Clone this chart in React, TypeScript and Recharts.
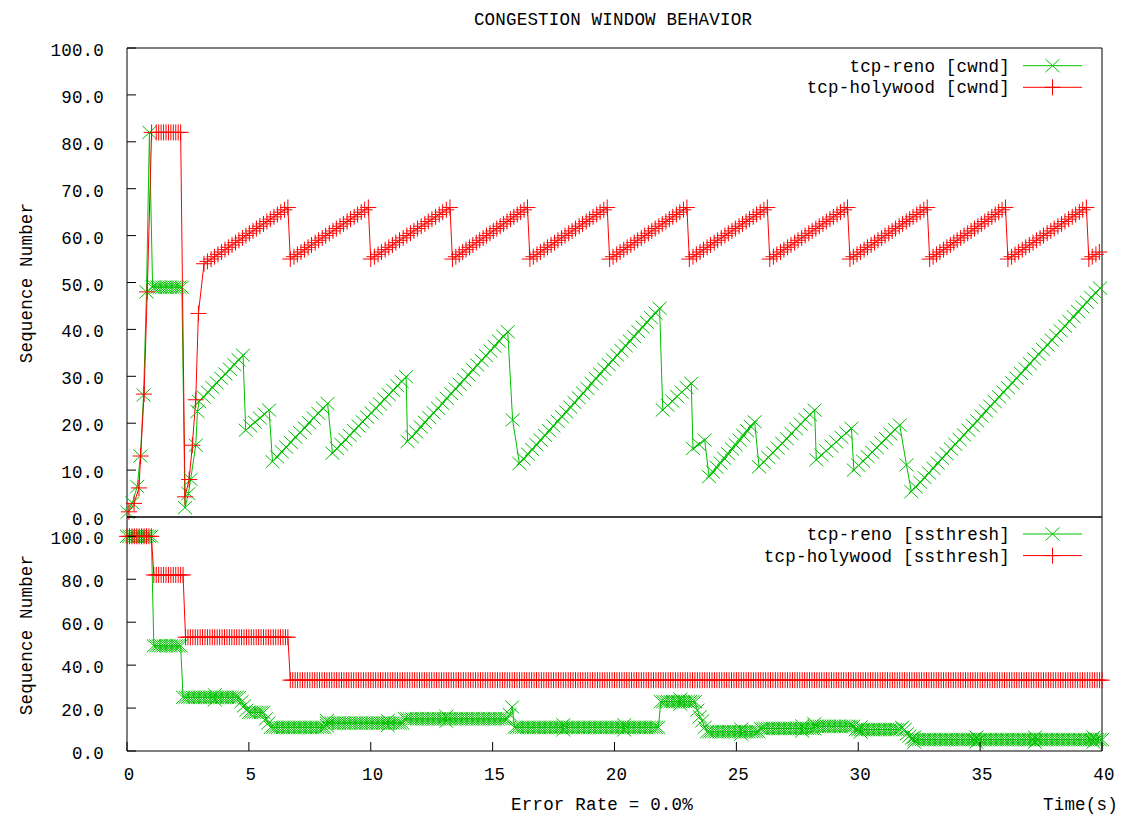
import { LineChart, Line, XAxis, YAxis, ReferenceArea } from 'recharts';

const GREEN = '#00c000';
const RED = '#ff0000';
const TEXT = {
  fontFamily: '"Liberation Mono", "DejaVu Sans Mono", monospace',
  fontSize: 17.5,
  letterSpacing: 0.2,
  fill: '#000',
};
const TICK_LEN = 9;

const cwndTicks = [0, 10, 20, 30, 40, 50, 60, 70, 80, 90, 100];
const ssTicks = [0, 20, 40, 60, 80, 100];
const timeTicks = [0, 5, 10, 15, 20, 25, 30, 35, 40];

// tcp-reno congestion window, [time (s), cwnd]
const renoCwnd: [number, number][] = [
  [0.02, 1], [0.22, 3], [0.42, 6.5], [0.55, 13], [0.68, 26], [0.8, 48], [0.92, 82],
  [1.05, 49], [1.15, 49], [1.25, 49], [1.35, 49], [1.45, 49], [1.55, 49], [1.65, 49], [1.75, 49], [1.85, 49], [1.95, 49], [2.05, 49], [2.15, 49], [2.25, 49],
  [2.38, 2], [2.52, 5], [2.61, 8], [2.82, 15.3], [2.89, 22.5],
  [2.96, 24.6], [3.14, 25.6], [3.32, 26.6], [3.5, 27.6], [3.68, 28.6], [3.86, 29.6], [4.04, 30.5], [4.22, 31.5], [4.4, 32.5], [4.58, 33.5], [4.76, 34.5],
  [4.87, 18.5], [5.06, 19.4], [5.25, 20.2], [5.45, 21.1], [5.64, 21.9], [5.83, 22.8],
  [5.97, 11.8], [6.16, 12.8], [6.35, 13.9], [6.53, 14.9], [6.72, 15.9], [6.91, 17], [7.1, 18], [7.29, 19], [7.47, 20.1], [7.66, 21.1], [7.85, 22.1], [8.04, 23.2], [8.23, 24.2],
  [8.43, 13.6], [8.61, 14.6], [8.79, 15.5], [8.96, 16.5], [9.14, 17.4], [9.32, 18.4], [9.5, 19.4], [9.67, 20.3], [9.85, 21.3], [10.03, 22.2], [10.21, 23.2], [10.38, 24.1], [10.56, 25.1], [10.74, 26.1], [10.92, 27], [11.09, 28], [11.27, 28.9], [11.45, 29.9],
  [11.51, 16.1], [11.69, 17.1], [11.87, 18.1], [12.05, 19.2], [12.22, 20.2], [12.4, 21.2], [12.58, 22.2], [12.76, 23.2], [12.94, 24.2], [13.12, 25.3], [13.3, 26.3], [13.48, 27.3],
  [13.65, 28.3], [13.83, 29.3], [14.01, 30.3], [14.19, 31.4], [14.37, 32.4], [14.55, 33.4], [14.73, 34.4], [14.91, 35.4], [15.08, 36.4], [15.26, 37.5], [15.44, 38.5], [15.62, 39.5],
  [15.82, 20.7],
  [16.1, 11.4], [16.27, 12.4], [16.45, 13.4], [16.62, 14.4], [16.8, 15.4], [16.97, 16.4], [17.15, 17.4], [17.32, 18.4], [17.49, 19.4], [17.67, 20.4], [17.84, 21.4], [18.02, 22.4],
  [18.19, 23.4], [18.36, 24.4], [18.54, 25.4], [18.71, 26.4], [18.89, 27.4], [19.06, 28.5], [19.24, 29.5], [19.41, 30.5], [19.58, 31.5], [19.76, 32.5], [19.93, 33.5], [20.11, 34.5],
  [20.28, 35.5], [20.46, 36.5], [20.63, 37.5], [20.8, 38.5], [20.98, 39.5], [21.15, 40.5], [21.33, 41.5], [21.5, 42.5], [21.68, 43.5], [21.85, 44.5],
  [21.98, 22.8], [22.18, 23.8], [22.37, 24.7], [22.57, 25.7], [22.76, 26.6], [22.96, 27.6], [23.15, 28.5],
  [23.22, 14.6], [23.46, 15.5], [23.7, 16.4],
  [23.88, 8.6], [24.04, 9.6], [24.19, 10.6], [24.35, 11.5], [24.5, 12.5], [24.66, 13.5], [24.82, 14.5], [24.97, 15.4], [25.13, 16.4], [25.28, 17.4], [25.44, 18.4], [25.59, 19.3], [25.75, 20.3],
  [25.93, 10.7], [26.12, 11.7], [26.31, 12.7], [26.5, 13.7], [26.69, 14.7], [26.88, 15.7], [27.07, 16.7], [27.26, 17.8], [27.45, 18.8], [27.64, 19.8], [27.83, 20.8], [28.02, 21.8], [28.21, 22.8],
  [28.28, 12.2], [28.49, 13.2], [28.69, 14.1], [28.9, 15.1], [29.1, 16], [29.31, 17], [29.51, 17.9], [29.72, 18.9],
  [29.82, 10], [30.01, 11], [30.2, 11.9], [30.38, 12.9], [30.57, 13.8], [30.76, 14.8], [30.95, 15.8], [31.14, 16.7], [31.32, 17.7], [31.51, 18.6], [31.7, 19.6],
  [31.98, 11.1],
  [32.18, 5.4], [32.36, 6.4], [32.54, 7.4], [32.72, 8.4], [32.9, 9.4], [33.08, 10.4], [33.26, 11.5], [33.44, 12.5], [33.62, 13.5], [33.8, 14.5], [33.98, 15.5], [34.16, 16.5],
  [34.34, 17.5], [34.52, 18.5], [34.7, 19.5], [34.88, 20.5], [35.06, 21.5], [35.24, 22.6], [35.42, 23.6], [35.6, 24.6], [35.78, 25.6], [35.96, 26.6], [36.14, 27.6], [36.32, 28.6],
  [36.5, 29.6], [36.68, 30.6], [36.86, 31.6], [37.04, 32.7], [37.22, 33.7], [37.4, 34.7], [37.58, 35.7], [37.76, 36.7], [37.94, 37.7], [38.12, 38.7], [38.3, 39.7], [38.48, 40.7],
  [38.66, 41.7], [38.84, 42.7], [39.02, 43.8], [39.2, 44.8], [39.38, 45.8], [39.56, 46.8], [39.74, 47.8], [39.92, 48.8],
];

// tcp-holywood: slow start, hold at 82, restart after the loss
const hwCwndStart: [number, number][] = [
  [0.08, 1.1], [0.29, 2.9], [0.49, 6.2], [0.56, 13], [0.7, 26.2], [0.83, 48], [1.01, 82],
  [1.2, 82], [1.3, 82], [1.4, 82], [1.5, 82], [1.6, 82], [1.7, 82], [1.8, 82], [1.9, 82], [2.0, 82], [2.1, 82], [2.2, 82],
  [2.38, 4.3], [2.55, 8], [2.68, 15.3], [2.82, 25], [2.93, 43.4],
];

// window levels climbed on every sawtooth ramp
const hwRampLevels = [
  54, 54.5, 55, 55.5, 56, 56.5, 57, 57.5, 58, 58.5, 59, 59.5, 60,
  60.5, 61, 61.5, 62, 62.5, 63, 63.5, 64, 64.5, 65, 65.5, 66,
];

const hwFirstRampTimes = [
  3.16, 3.3, 3.45, 3.59, 3.73, 3.88, 4.02, 4.16, 4.31, 4.45, 4.59, 4.74, 4.88,
  5.02, 5.17, 5.31, 5.45, 5.6, 5.74, 5.88, 6.03, 6.17, 6.31, 6.46, 6.6,
];

// sample times of each later tooth, 55 -> 66
const hwToothTimes = [
  [6.7, 6.85, 6.99, 7.14, 7.28, 7.43, 7.57, 7.72, 7.86, 8.01, 8.15, 8.3, 8.45, 8.59, 8.74, 8.88, 9.03, 9.17, 9.32, 9.46, 9.61, 9.75, 9.9],
  [10, 10.15, 10.3, 10.44, 10.59, 10.74, 10.89, 11.03, 11.18, 11.33, 11.48, 11.63, 11.77, 11.92, 12.07, 12.22, 12.36, 12.51, 12.66, 12.81, 12.95, 13.1, 13.25],
  [13.35, 13.49, 13.63, 13.77, 13.91, 14.05, 14.19, 14.33, 14.47, 14.61, 14.75, 14.89, 15.03, 15.17, 15.31, 15.45, 15.59, 15.73, 15.87, 16.01, 16.15, 16.29, 16.43],
  [16.53, 16.67, 16.82, 16.96, 17.11, 17.25, 17.4, 17.54, 17.68, 17.83, 17.97, 18.12, 18.26, 18.4, 18.55, 18.69, 18.84, 18.98, 19.12, 19.27, 19.41, 19.56, 19.7],
  [19.8, 19.94, 20.09, 20.23, 20.38, 20.52, 20.67, 20.81, 20.95, 21.1, 21.24, 21.39, 21.53, 21.67, 21.82, 21.96, 22.11, 22.25, 22.39, 22.54, 22.68, 22.83, 22.97],
  [23.07, 23.22, 23.36, 23.51, 23.65, 23.8, 23.94, 24.09, 24.23, 24.38, 24.53, 24.67, 24.82, 24.96, 25.11, 25.25, 25.4, 25.54, 25.69, 25.83, 25.98, 26.13, 26.27],
  [26.37, 26.52, 26.66, 26.81, 26.95, 27.1, 27.24, 27.39, 27.53, 27.68, 27.82, 27.97, 28.11, 28.26, 28.4, 28.55, 28.69, 28.84, 28.98, 29.13, 29.27, 29.42, 29.56],
  [29.66, 29.8, 29.95, 30.09, 30.24, 30.38, 30.53, 30.67, 30.81, 30.96, 31.1, 31.25, 31.39, 31.53, 31.68, 31.82, 31.97, 32.11, 32.25, 32.4, 32.54, 32.69, 32.83],
  [32.93, 33.07, 33.21, 33.35, 33.5, 33.64, 33.78, 33.92, 34.06, 34.2, 34.34, 34.49, 34.63, 34.77, 34.91, 35.05, 35.19, 35.33, 35.48, 35.62, 35.76, 35.9, 36.04],
  [36.14, 36.29, 36.43, 36.58, 36.73, 36.87, 37.02, 37.17, 37.31, 37.46, 37.6, 37.75, 37.9, 38.04, 38.19, 38.34, 38.48, 38.63, 38.78, 38.92, 39.07, 39.21, 39.36],
];

const hwCwndTail: [number, number][] = [[39.46, 55], [39.6, 55.5], [39.75, 56], [39.89, 56.5]];

// ssthresh trace sample times (s)
const ssTimes = [
  0, 0.1, 0.2, 0.3, 0.4, 0.5, 0.6, 0.7, 0.8, 0.9,
  1, 1.1, 1.2, 1.3, 1.4, 1.5, 1.6, 1.7, 1.8, 1.9,
  2, 2.1, 2.2, 2.3, 2.4, 2.5, 2.6, 2.7, 2.8, 2.9,
  3, 3.1, 3.2, 3.3, 3.4, 3.5, 3.6, 3.7, 3.8, 3.9,
  4, 4.1, 4.2, 4.3, 4.4, 4.5, 4.6, 4.7, 4.8, 4.9,
  5, 5.1, 5.2, 5.3, 5.4, 5.5, 5.6, 5.7, 5.8, 5.9,
  6, 6.1, 6.2, 6.3, 6.4, 6.5, 6.6, 6.7, 6.8, 6.9,
  7, 7.1, 7.2, 7.3, 7.4, 7.5, 7.6, 7.7, 7.8, 7.9,
  8, 8.1, 8.2, 8.3, 8.4, 8.5, 8.6, 8.7, 8.8, 8.9,
  9, 9.1, 9.2, 9.3, 9.4, 9.5, 9.6, 9.7, 9.8, 9.9,
  10, 10.1, 10.2, 10.3, 10.4, 10.5, 10.6, 10.7, 10.8, 10.9,
  11, 11.1, 11.2, 11.3, 11.4, 11.5, 11.6, 11.7, 11.8, 11.9,
  12, 12.1, 12.2, 12.3, 12.4, 12.5, 12.6, 12.7, 12.8, 12.9,
  13, 13.1, 13.2, 13.3, 13.4, 13.5, 13.6, 13.7, 13.8, 13.9,
  14, 14.1, 14.2, 14.3, 14.4, 14.5, 14.6, 14.7, 14.8, 14.9,
  15, 15.1, 15.2, 15.3, 15.4, 15.5, 15.6, 15.7, 15.8, 15.9,
  16, 16.1, 16.2, 16.3, 16.4, 16.5, 16.6, 16.7, 16.8, 16.9,
  17, 17.1, 17.2, 17.3, 17.4, 17.5, 17.6, 17.7, 17.8, 17.9,
  18, 18.1, 18.2, 18.3, 18.4, 18.5, 18.6, 18.7, 18.8, 18.9,
  19, 19.1, 19.2, 19.3, 19.4, 19.5, 19.6, 19.7, 19.8, 19.9,
  20, 20.1, 20.2, 20.3, 20.4, 20.5, 20.6, 20.7, 20.8, 20.9,
  21, 21.1, 21.2, 21.3, 21.4, 21.5, 21.6, 21.7, 21.8, 21.9,
  22, 22.1, 22.2, 22.3, 22.4, 22.5, 22.6, 22.7, 22.8, 22.9,
  23, 23.1, 23.2, 23.3, 23.4, 23.5, 23.6, 23.7, 23.8, 23.9,
  24, 24.1, 24.2, 24.3, 24.4, 24.5, 24.6, 24.7, 24.8, 24.9,
  25, 25.1, 25.2, 25.3, 25.4, 25.5, 25.6, 25.7, 25.8, 25.9,
  26, 26.1, 26.2, 26.3, 26.4, 26.5, 26.6, 26.7, 26.8, 26.9,
  27, 27.1, 27.2, 27.3, 27.4, 27.5, 27.6, 27.7, 27.8, 27.9,
  28, 28.1, 28.2, 28.3, 28.4, 28.5, 28.6, 28.7, 28.8, 28.9,
  29, 29.1, 29.2, 29.3, 29.4, 29.5, 29.6, 29.7, 29.8, 29.9,
  30, 30.1, 30.2, 30.3, 30.4, 30.5, 30.6, 30.7, 30.8, 30.9,
  31, 31.1, 31.2, 31.3, 31.4, 31.5, 31.6, 31.7, 31.8, 31.9,
  32, 32.1, 32.2, 32.3, 32.4, 32.5, 32.6, 32.7, 32.8, 32.9,
  33, 33.1, 33.2, 33.3, 33.4, 33.5, 33.6, 33.7, 33.8, 33.9,
  34, 34.1, 34.2, 34.3, 34.4, 34.5, 34.6, 34.7, 34.8, 34.9,
  35, 35.1, 35.2, 35.3, 35.4, 35.5, 35.6, 35.7, 35.8, 35.9,
  36, 36.1, 36.2, 36.3, 36.4, 36.5, 36.6, 36.7, 36.8, 36.9,
  37, 37.1, 37.2, 37.3, 37.4, 37.5, 37.6, 37.7, 37.8, 37.9,
  38, 38.1, 38.2, 38.3, 38.4, 38.5, 38.6, 38.7, 38.8, 38.9,
  39, 39.1, 39.2, 39.3, 39.4, 39.5, 39.6, 39.7, 39.8, 39.9,
  40,
];

// tcp-reno ssthresh at each sample time
const renoSsLevels = [
  100, 100, 100, 100, 100, 100, 100, 100, 100, 100,
  100, 49, 49, 49, 49, 49, 49, 49, 49, 49,
  49, 49, 49, 25, 25, 25, 25, 25, 25, 25,
  25, 25, 25, 25, 25, 25, 25, 25, 25, 25,
  25, 25, 25, 25, 25, 25, 25, 23, 21, 19,
  18, 18, 18, 18, 18, 18, 18, 15, 13, 11,
  11, 11, 11, 11, 11, 11, 11, 11, 11, 11,
  11, 11, 11, 11, 11, 11, 11, 11, 11, 11,
  11, 11, 13, 13, 13, 13, 13, 13, 13, 13,
  13, 13, 13, 13, 13, 13, 13, 13, 13, 13,
  13, 13, 13, 13, 13, 13, 13, 13, 13, 13,
  13, 13, 13, 13, 15, 15, 15, 15, 15, 15,
  15, 15, 15, 15, 15, 15, 15, 15, 15, 15,
  15, 15, 15, 15, 15, 15, 15, 15, 15, 15,
  15, 15, 15, 15, 15, 15, 15, 15, 15, 15,
  15, 15, 15, 15, 15, 15, 15, 17, 20.5, 11,
  11, 11, 11, 11, 11, 11, 11, 11, 11, 11,
  11, 11, 11, 11, 11, 11, 11, 11, 11, 11,
  11, 11, 11, 11, 11, 11, 11, 11, 11, 11,
  11, 11, 11, 11, 11, 11, 11, 11, 11, 11,
  11, 11, 11, 11, 11, 11, 11, 11, 11, 11,
  11, 11, 11, 11, 11, 11, 11, 11, 11, 23,
  23, 23, 23, 23, 23, 23, 23, 23, 23, 23,
  23, 23, 23, 23, 19, 16, 14, 11, 9, 9,
  9, 9, 9, 9, 9, 9, 9, 9, 9, 9,
  9, 9, 9, 9, 9, 9, 9, 9, 9, 9,
  10.5, 10.5, 10.5, 10.5, 10.5, 10.5, 10.5, 10.5, 10.5, 10.5,
  10.5, 10.5, 10.5, 10.5, 10.5, 10.5, 10.5, 10.5, 10.5, 10.5,
  10.5, 10.5, 11.5, 11.5, 11.5, 11.5, 11.5, 11.5, 11.5, 11.5,
  11.5, 11.5, 11.5, 11.5, 11.5, 11.5, 11.5, 11.5, 11.5, 10,
  10, 10, 10, 10, 10, 10, 10, 10, 10, 10,
  10, 10, 10, 10, 10, 10, 10, 10, 11, 10,
  8, 7, 6, 5.3, 5.3, 5.3, 5.3, 5.3, 5.3, 5.3,
  5.3, 5.3, 5.3, 5.3, 5.3, 5.3, 5.3, 5.3, 5.3, 5.3,
  5.3, 5.3, 5.3, 5.3, 5.3, 5.3, 5.3, 5.3, 5.3, 5.3,
  5.3, 5.3, 5.3, 5.3, 5.3, 5.3, 5.3, 5.3, 5.3, 5.3,
  5.3, 5.3, 5.3, 5.3, 5.3, 5.3, 5.3, 5.3, 5.3, 5.3,
  5.3, 5.3, 5.3, 5.3, 5.3, 5.3, 5.3, 5.3, 5.3, 5.3,
  5.3, 5.3, 5.3, 5.3, 5.3, 5.3, 5.3, 5.3, 5.3, 5.3,
  5.3, 5.3, 5.3, 5.3, 5.3, 5.3, 5.3, 5.3, 5.3, 5.3,
  5.3,
];

// repeated reno ssthresh records logged at the same instant
const renoSsRepeats: [number, number][] = [
  [3.6, 23.8], [3.6, 26.2], [8.2, 11.8], [8.2, 14.2], [10.7, 11.8], [10.7, 14.2],
  [13.1, 13.8], [13.1, 16.2], [17.9, 9.8], [17.9, 12.2], [20.4, 9.8], [20.4, 12.2],
  [22.7, 21.8], [22.7, 24.2], [25.2, 7.8], [25.2, 10.2], [27.7, 9.3], [27.7, 11.7],
  [28.2, 10.3], [28.2, 12.7], [30.1, 8.8], [30.1, 11.2], [32.3, 4.1], [32.3, 6.5],
  [34.85, 4.1], [34.85, 6.5], [37.25, 4.1], [37.25, 6.5], [39.65, 4.1], [39.65, 6.5],
];

// tcp-holywood ssthresh at each sample time
const hwSsLevels = [
  100, 100, 100, 100, 100, 100, 100, 100, 100, 100,
  100, 82, 82, 82, 82, 82, 82, 82, 82, 82,
  82, 82, 82, 82, 53, 53, 53, 53, 53, 53,
  53, 53, 53, 53, 53, 53, 53, 53, 53, 53,
  53, 53, 53, 53, 53, 53, 53, 53, 53, 53,
  53, 53, 53, 53, 53, 53, 53, 53, 53, 53,
  53, 53, 53, 53, 53, 53, 53, 33, 33, 33,
  33, 33, 33, 33, 33, 33, 33, 33, 33, 33,
  33, 33, 33, 33, 33, 33, 33, 33, 33, 33,
  33, 33, 33, 33, 33, 33, 33, 33, 33, 33,
  33, 33, 33, 33, 33, 33, 33, 33, 33, 33,
  33, 33, 33, 33, 33, 33, 33, 33, 33, 33,
  33, 33, 33, 33, 33, 33, 33, 33, 33, 33,
  33, 33, 33, 33, 33, 33, 33, 33, 33, 33,
  33, 33, 33, 33, 33, 33, 33, 33, 33, 33,
  33, 33, 33, 33, 33, 33, 33, 33, 33, 33,
  33, 33, 33, 33, 33, 33, 33, 33, 33, 33,
  33, 33, 33, 33, 33, 33, 33, 33, 33, 33,
  33, 33, 33, 33, 33, 33, 33, 33, 33, 33,
  33, 33, 33, 33, 33, 33, 33, 33, 33, 33,
  33, 33, 33, 33, 33, 33, 33, 33, 33, 33,
  33, 33, 33, 33, 33, 33, 33, 33, 33, 33,
  33, 33, 33, 33, 33, 33, 33, 33, 33, 33,
  33, 33, 33, 33, 33, 33, 33, 33, 33, 33,
  33, 33, 33, 33, 33, 33, 33, 33, 33, 33,
  33, 33, 33, 33, 33, 33, 33, 33, 33, 33,
  33, 33, 33, 33, 33, 33, 33, 33, 33, 33,
  33, 33, 33, 33, 33, 33, 33, 33, 33, 33,
  33, 33, 33, 33, 33, 33, 33, 33, 33, 33,
  33, 33, 33, 33, 33, 33, 33, 33, 33, 33,
  33, 33, 33, 33, 33, 33, 33, 33, 33, 33,
  33, 33, 33, 33, 33, 33, 33, 33, 33, 33,
  33, 33, 33, 33, 33, 33, 33, 33, 33, 33,
  33, 33, 33, 33, 33, 33, 33, 33, 33, 33,
  33, 33, 33, 33, 33, 33, 33, 33, 33, 33,
  33, 33, 33, 33, 33, 33, 33, 33, 33, 33,
  33, 33, 33, 33, 33, 33, 33, 33, 33, 33,
  33, 33, 33, 33, 33, 33, 33, 33, 33, 33,
  33, 33, 33, 33, 33, 33, 33, 33, 33, 33,
  33, 33, 33, 33, 33, 33, 33, 33, 33, 33,
  33,
];

const cwndLegend = [
  { label: 'tcp-reno [cwnd]', color: GREEN, mark: 'x' },
  { label: 'tcp-holywood [cwnd]', color: RED, mark: '+' },
];
const ssLegend = [
  { label: 'tcp-reno [ssthresh]', color: GREEN, mark: 'x' },
  { label: 'tcp-holywood [ssthresh]', color: RED, mark: '+' },
];

type Pt = { t: number; v: number };
const toPoints = (pairs: [number, number][]): Pt[] => pairs.map(([t, v]) => ({ t, v }));

const renoCwndData = toPoints(renoCwnd);
const hwCwndData: Pt[] = [
  ...toPoints(hwCwndStart),
  ...hwFirstRampTimes.map((t, i) => ({ t, v: hwRampLevels[i] })),
  ...hwToothTimes.flatMap((times) => times.map((t, i) => ({ t, v: hwRampLevels[i + 2] }))),
  ...toPoints(hwCwndTail),
];
const renoSsData: Pt[] = [
  ...ssTimes.map((t, i) => ({ t, v: renoSsLevels[i] })),
  ...toPoints(renoSsRepeats),
].sort((a, b) => a.t - b.t);
const hwSsData: Pt[] = ssTimes.map((t, i) => ({ t, v: hwSsLevels[i] }));

// gnuplot-style point shapes
const crossPath = (x: number, y: number) =>
  `M${x - 7},${y - 6.5}L${x + 7},${y + 6.5}M${x - 7},${y + 6.5}L${x + 7},${y - 6.5}`;
const plusPath = (x: number, y: number) => `M${x - 8},${y}H${x + 8}M${x},${y - 8}V${y + 8}`;

const crossDot = (p: any) => (
  <path key={`x${p.index}`} d={crossPath(p.cx, p.cy)} stroke={GREEN} strokeWidth={1} fill="none" />
);
const plusDot = (p: any) => (
  <path key={`p${p.index}`} d={plusPath(p.cx, p.cy)} stroke={RED} strokeWidth={1} fill="none" />
);

// ticks are drawn inward, labels outside
const leftTick = (p: any) => (
  <g>
    <line x1={p.x + 23} x2={p.x + 23 + TICK_LEN} y1={p.y} y2={p.y} stroke="#000" />
    <text x={p.x} y={p.y + 8} textAnchor="end" {...TEXT}>
      {Number(p.payload.value).toFixed(1)}
    </text>
  </g>
);
const rightTick = (p: any) => (
  <line x1={p.x} x2={p.x - TICK_LEN} y1={p.y} y2={p.y} stroke="#000" />
);
const bottomTick = (p: any) => (
  <g>
    <line x1={p.x} x2={p.x} y1={p.y - 29} y2={p.y - 29 - TICK_LEN} stroke="#000" />
    <text x={p.x + 2} y={p.y} textAnchor="middle" {...TEXT}>
      {p.payload.value}
    </text>
  </g>
);
const topTick = (p: any) => (
  <line x1={p.x} x2={p.x} y1={p.y} y2={p.y + TICK_LEN} stroke="#000" />
);

function LegendKey({ y, rows }: { y: number; rows: typeof cwndLegend }) {
  return (
    <g>
      {rows.map((r, i) => {
        const cy = y + i * 21.6;
        return (
          <g key={r.label}>
            <text x={1010} y={cy + 6} textAnchor="end" {...TEXT}>
              {r.label}
            </text>
            <line x1={1023} x2={1082} y1={cy} y2={cy} stroke={r.color} />
            <path
              d={r.mark === 'x' ? crossPath(1052.5, cy) : plusPath(1052.5, cy)}
              stroke={r.color}
              fill="none"
            />
          </g>
        );
      })}
    </g>
  );
}

function CwndPanel() {
  return (
    <LineChart width={1122} height={530} margin={{ top: 48, right: 0, bottom: 13, left: 0 }}>
      <XAxis type="number" dataKey="t" domain={[0, 40]} hide />
      <YAxis
        type="number"
        domain={[0, 100]}
        ticks={cwndTicks}
        interval={0}
        width={127}
        tickSize={0}
        tickMargin={23}
        axisLine={false}
        tickLine={false}
        tick={leftTick}
      />
      <YAxis
        yAxisId="r"
        orientation="right"
        type="number"
        domain={[0, 100]}
        ticks={cwndTicks}
        interval={0}
        width={20}
        tickSize={0}
        tickMargin={0}
        axisLine={false}
        tickLine={false}
        tick={rightTick}
      />
      <ReferenceArea x1={0} x2={40} y1={0} y2={100} fill="none" stroke="#000" strokeWidth={1} />
      <Line
        data={renoCwndData}
        dataKey="v"
        type="linear"
        stroke={GREEN}
        strokeWidth={1}
        dot={crossDot}
        activeDot={false}
        isAnimationActive={false}
      />
      <Line
        data={hwCwndData}
        dataKey="v"
        type="linear"
        stroke={RED}
        strokeWidth={1}
        dot={plusDot}
        activeDot={false}
        isAnimationActive={false}
      />
    </LineChart>
  );
}

function SsthreshPanel() {
  return (
    <LineChart width={1122} height={313} margin={{ top: 12, right: 0, bottom: 0, left: 0 }}>
      <XAxis
        type="number"
        dataKey="t"
        domain={[0, 40]}
        ticks={timeTicks}
        interval={0}
        height={67}
        tickSize={0}
        tickMargin={29}
        axisLine={false}
        tickLine={false}
        tick={bottomTick}
      />
      <XAxis
        xAxisId="top"
        orientation="top"
        type="number"
        dataKey="t"
        domain={[0, 40]}
        ticks={timeTicks}
        interval={0}
        height={0}
        tickSize={0}
        tickMargin={0}
        axisLine={false}
        tickLine={false}
        tick={topTick}
      />
      <YAxis
        type="number"
        domain={[0, 109]}
        ticks={ssTicks}
        interval={0}
        width={127}
        tickSize={0}
        tickMargin={23}
        axisLine={false}
        tickLine={false}
        tick={leftTick}
      />
      <YAxis
        yAxisId="r"
        orientation="right"
        type="number"
        domain={[0, 109]}
        ticks={ssTicks}
        interval={0}
        width={20}
        tickSize={0}
        tickMargin={0}
        axisLine={false}
        tickLine={false}
        tick={rightTick}
      />
      <ReferenceArea x1={0} x2={40} y1={0} y2={109} fill="none" stroke="#000" strokeWidth={1} />
      <Line
        data={renoSsData}
        dataKey="v"
        type="linear"
        stroke={GREEN}
        strokeWidth={1}
        dot={crossDot}
        activeDot={false}
        isAnimationActive={false}
      />
      <Line
        data={hwSsData}
        dataKey="v"
        type="linear"
        stroke={RED}
        strokeWidth={1}
        dot={plusDot}
        activeDot={false}
        isAnimationActive={false}
      />
    </LineChart>
  );
}

export default function App() {
  return (
    <div style={{ position: 'absolute', left: 0, top: 0, width: 1122, height: 818, background: '#fff' }}>
      <div style={{ position: 'absolute', left: 0, top: 0 }}>
        <CwndPanel />
      </div>
      <div style={{ position: 'absolute', left: 0, top: 505 }}>
        <SsthreshPanel />
      </div>
      <svg
        width={1122}
        height={818}
        style={{ position: 'absolute', left: 0, top: 0, pointerEvents: 'none' }}
      >
        <text x={613} y={25} textAnchor="middle" {...TEXT}>
          CONGESTION WINDOW BEHAVIOR
        </text>
        <text x={32} y={283} textAnchor="middle" transform="rotate(-90 32 283)" {...TEXT}>
          Sequence Number
        </text>
        <text x={32} y={635} textAnchor="middle" transform="rotate(-90 32 635)" {...TEXT}>
          Sequence Number
        </text>
        <text x={602} y={810} textAnchor="middle" {...TEXT}>
          Error Rate = 0.0%
        </text>
        <text x={1043} y={810} textAnchor="start" {...TEXT}>
          Time(s)
        </text>
        <LegendKey y={65.7} rows={cwndLegend} />
        <LegendKey y={534} rows={ssLegend} />
      </svg>
    </div>
  );
}
